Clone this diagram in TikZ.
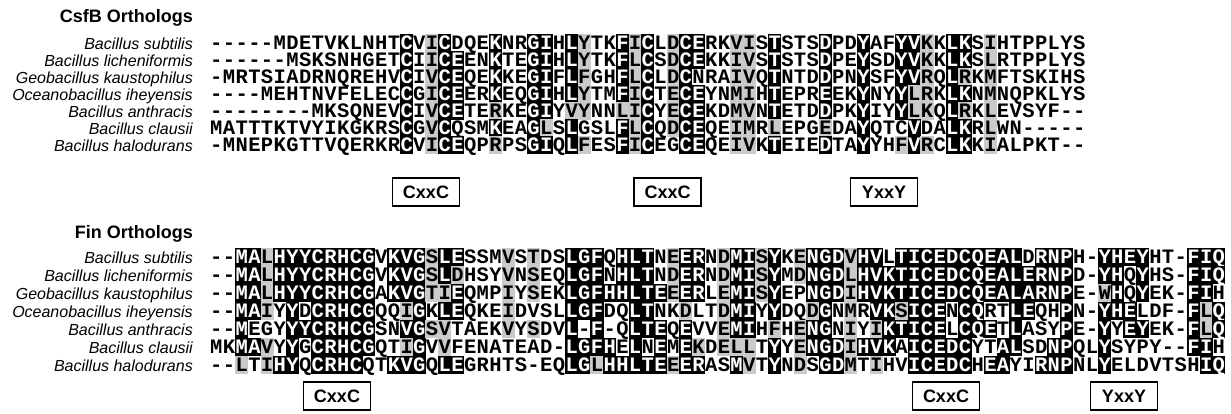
\documentclass[tikz,border=0pt]{standalone}
\usepackage{fontspec}
\setmainfont{Liberation Sans}
\newfontfamily\seqfam{Liberation Mono}
\definecolor{shgrey}{HTML}{CACACA}
\newcommand\seqf{\seqfam\bfseries\fontsize{20.5}{20.5}\selectfont}
\newcount\alidx
\def\alstop{\alstop}
\def\alparse#1#2{\alidx=0 \def\alhandler{#2}\alparseloop#1\alstop}
\def\alparseloop#1{\ifx#1\alstop\else\advance\alidx by 1 \expandafter\alhandler\expandafter{\the\alidx}{#1}\expandafter\alparseloop\fi}
\def\colspec#1#2#3{\def\curblock{#1}\def\curcol{#2}\alparse{#3}\storeshade}
\def\storeshade#1#2{\expandafter\xdef\csname sh-\curblock-#1-\curcol\endcsname{#2}}
\def\seqrow#1#2#3{\def\curblock{#1}\def\currow{#2}\alparse{#3}\drawcell}
\def\xz{210}\def\pitch{12.69}
\def\yzT{43}\def\dyT{17}
\def\yzB{257}\def\dyB{18}
\def\drawcell#1#2{%
  \edef\shd{\ifcsname sh-\curblock-\currow-#1\endcsname\csname sh-\curblock-\currow-#1\endcsname\else n\fi}%
  \pgfmathsetmacro\cx{\xz+(#1-0.5)*\pitch}%
  \pgfmathsetmacro\cy{\csname yz\curblock\endcsname+(\currow-1)*\csname dy\curblock\endcsname}%
  \pgfmathsetmacro\hh{\csname dy\curblock\endcsname/2+0.25}%
  \pgfmathsetmacro\xl{\cx-\pitch/2-0.25}\pgfmathsetmacro\xr{\cx+\pitch/2+0.25}%
  \pgfmathsetmacro\yt{\cy-\hh}\pgfmathsetmacro\yb{\cy+\hh}\pgfmathsetmacro\by{\cy+6}%
  \if b\shd
    \fill[black] (\xl,\yt) rectangle (\xr,\yb);
    \node[seqw] (c\curblock\currow-#1) at (\cx,\by) {#2};
  \else\if g\shd
    \fill[shgrey] (\xl,\yt) rectangle (\xr,\yb);
    \node[seq] (c\curblock\currow-#1) at (\cx,\by) {#2};
  \else
    \node[seq] (c\curblock\currow-#1) at (\cx,\by) {#2};
  \fi\fi}
\tikzset{
 seq/.style={font=\seqf, inner sep=0pt, anchor=base},
 seqw/.style={seq, text=white},
 lab/.style={font=\fontsize{16}{16}\selectfont\itshape, anchor=base east, inner sep=0pt},
 hdr/.style={font=\fontsize{18}{18}\selectfont\bfseries, anchor=base east, inner sep=0pt},
 motif/.style={draw, line width=1.3pt, minimum width=67pt, minimum height=28pt, inner sep=0pt, font=\fontsize{18}{18}\selectfont\bfseries}
}
% top block shading
\colspec{T}{16}{bbbbbbb}\colspec{T}{18}{ggggggg}\colspec{T}{19}{bbbbbbb}
\colspec{T}{20}{nbbbbnb}\colspec{T}{23}{bbbbgbg}\colspec{T}{26}{bbbbbbb}
\colspec{T}{27}{bbbbbgb}\colspec{T}{29}{bbbbgbb}\colspec{T}{30}{gggggng}
\colspec{T}{33}{bbbbgbb}\colspec{T}{34}{ggggggg}\colspec{T}{35}{bbbbbbb}
\colspec{T}{37}{ggggggn}\colspec{T}{38}{bbbbbbb}\colspec{T}{39}{bbnbbbb}
\colspec{T}{42}{ggggggg}\colspec{T}{43}{ggggggg}\colspec{T}{45}{bbbbbgb}
\colspec{T}{49}{bbbbbgb}\colspec{T}{52}{bbbbbbb}\colspec{T}{55}{bbbbbng}
\colspec{T}{56}{bbbggbb}\colspec{T}{57}{gggggng}\colspec{T}{59}{bbbbbbb}
\colspec{T}{60}{bbgbgbb}\colspec{T}{62}{ggggggg}
% bottom block shading
\colspec{B}{3}{bbbbbbg}\colspec{B}{4}{bbbbnbn}\colspec{B}{5}{ggggngg}
\colspec{B}{6}{bbbnnnb}\colspec{B}{7}{bbbbbbb}\colspec{B}{8}{bbbnbnn}
\colspec{B}{9}{bbbbbbb}\colspec{B}{10}{bbbbbbb}\colspec{B}{11}{bbbbbbb}
\colspec{B}{12}{bbbbbbb}\colspec{B}{13}{bbbbbbn}\colspec{B}{15}{bbbnnnb}
\colspec{B}{16}{bbbgbgb}\colspec{B}{17}{bbbbbbb}\colspec{B}{18}{gggngnn}
\colspec{B}{19}{bbgbggb}\colspec{B}{20}{bgbbnnb}\colspec{B}{24}{gggggnn}
\colspec{B}{26}{gggngnn}\colspec{B}{29}{bbbbbbb}\colspec{B}{30}{bbbbnbb}
\colspec{B}{31}{bbbbbbg}\colspec{B}{32}{nnbnnbb}\colspec{B}{33}{bbbnnnb}
\colspec{B}{34}{bbbbbbb}\colspec{B}{35}{bbbbbnb}\colspec{B}{36}{nnbnbbb}
\colspec{B}{37}{gggnnng}\colspec{B}{38}{bbbgbbb}\colspec{B}{39}{bbbnngb}
\colspec{B}{41}{ggggggn}\colspec{B}{42}{bbbbbgb}\colspec{B}{43}{bbbbbgg}
\colspec{B}{44}{gggnnnn}\colspec{B}{45}{bbbbgbb}\colspec{B}{47}{ggnnggg}
\colspec{B}{48}{bbbgbbn}\colspec{B}{49}{bbbbbbb}\colspec{B}{50}{bbbnnbb}
\colspec{B}{51}{ggggggg}\colspec{B}{52}{bbbnnbn}\colspec{B}{53}{bbbbgbg}
\colspec{B}{54}{nbbbbbn}\colspec{B}{55}{bbbgbnn}\colspec{B}{56}{bbbbbbb}
\colspec{B}{57}{bbbbbbb}\colspec{B}{58}{bbbbbbb}\colspec{B}{59}{bbbnnbb}
\colspec{B}{60}{bbbbbbb}\colspec{B}{61}{bbbbbnn}\colspec{B}{62}{bbbnbnb}
\colspec{B}{63}{bbbnnbb}\colspec{B}{64}{bbbbbbn}\colspec{B}{65}{nbbbnnn}
\colspec{B}{66}{bbbnnnb}\colspec{B}{67}{bbbnnbb}\colspec{B}{68}{bbbbbbb}
\colspec{B}{71}{bbgbbbb}\colspec{B}{72}{bbbbnnn}\colspec{B}{73}{bnnbbnn}
\colspec{B}{74}{bbbnbnn}\colspec{B}{78}{bbbbbbn}\colspec{B}{79}{bbbggbb}
\colspec{B}{80}{bbnbbnb}
\begin{document}
\begin{tikzpicture}[x=1pt,y=-1pt]
\useasboundingbox (0,0) rectangle (1231,413);
\node[hdr] (h1) at (193,22) {CsfB Orthologs};
\node[lab] (t1) at (193,49) {Bacillus subtilis};
\node[lab] (t2) at (193,66) {Bacillus licheniformis};
\node[lab] (t3) at (193,83) {Geobacillus kaustophilus};
\node[lab] (t4) at (193,100) {Oceanobacillus iheyensis};
\node[lab] (t5) at (193,117) {Bacillus anthracis};
\node[lab] (t6) at (193,134) {Bacillus clausii};
\node[lab] (t7) at (193,151) {Bacillus halodurans};
\seqrow{T}{1}{-----MDETVKLNHTCVICDQEKNRGIHLYTKFICLDCERKVISTSTSDPDYAFYVKKLKSIHTPPLYS}
\seqrow{T}{2}{------MSKSNHGETCIICEENKTEGIHLYTKFLCSDCEKKIVSTSTSDPEYSDYVKKLKSLRTPPLYS}
\seqrow{T}{3}{-MRTSIADRNQREHVCIVCEQEKKEGIFLFGHFLCLDCNRAIVQTNTDDPNYSFYVRQLRKMFTSKIHS}
\seqrow{T}{4}{----MEHTNVFELECCGICEERKEQGIHLYTMFICTECEYNMIHTEPREEKYNYYLRKLKNMNQPKLYS}
\seqrow{T}{5}{--------MKSQNEVCIVCETERKEGIYVYNNLICYECEKDMVNTETDDPKYIYYLKQLRKLEVSYF--}
\seqrow{T}{6}{MATTTKTVYIKGKRSCGVCQSMKEAGLSLGSLFLCQDCEQEIMRLEPGEDAYQTCVDALKRLWN-----}
\seqrow{T}{7}{-MNEPKGTTVQERKRCVICEQPRPSGIQLFESFICEGCEQEIVKTEIEDTAYYHFVRCLKKIALPKT--}
\node[motif] (m1) at (426,192) {CxxC};
\node[motif] (m2) at (667.6,192) {CxxC};
\node[motif] (m3) at (884,192) {YxxY};
\node[hdr] (h2) at (193,238) {Fin Orthologs};
\node[lab] (b1) at (193,263) {Bacillus subtilis};
\node[lab] (b2) at (193,281) {Bacillus licheniformis};
\node[lab] (b3) at (193,299) {Geobacillus kaustophilus};
\node[lab] (b4) at (193,317) {Oceanobacillus iheyensis};
\node[lab] (b5) at (193,335) {Bacillus anthracis};
\node[lab] (b6) at (193,353) {Bacillus clausii};
\node[lab] (b7) at (193,371) {Bacillus halodurans};
\seqrow{B}{1}{--MALHYYCRHCGVKVGSLESSMVSTDSLGFQHLTNEERNDMISYKENGDVHVLTICEDCQEALDRNPH-YHEYHT-FIQ}
\seqrow{B}{2}{--MALHYYCRHCGVKVGSLDHSYVNSEQLGFNHLTNDERNDMISYMDNGDLHVKTICEDCQEALERNPD-YHQYHS-FIQ}
\seqrow{B}{3}{--MALHYYCRHCGAKVGTIEQMPIYSEKLGFHHLTEEERLEMISYEPNGDIHVKTICEDCQEALARNPE-WHQYEK-FIH}
\seqrow{B}{4}{--MAIYYDCRHCGQQIGKLEQKEIDVSLLGFDQLTNKDLTDMIYYDQDGNMRVKSICENCQRTLEQHPN-YHELDF-FLQ}
\seqrow{B}{5}{--MEGYYYCRHCGSNVGSVTAEKVYSDVL-F-QLTEQEVVEMIHFHENGNIYIKTICELCQETLASYPE-YYEYEK-FLQ}
\seqrow{B}{6}{MKMAVYYGCRHCGQTIGVVFENATEAD-LGFHELNEMEKDELLTYYENGDIHVKAICEDCYTALSDNPQLYSYPY--FIH}
\seqrow{B}{7}{--LTIHYQCRHCQTKVGQLEGRHTS-EQLGLHHLTEEERASMVTYNDSGDMTIHVICEDCHEAYIRNPNLYELDVTSHIQ}
\node[motif] (m4) at (337,396) {CxxC};
\node[motif] (m5) at (946,396) {CxxC};
\node[motif] (m6) at (1124,396) {YxxY};
\end{tikzpicture}
\end{document}
